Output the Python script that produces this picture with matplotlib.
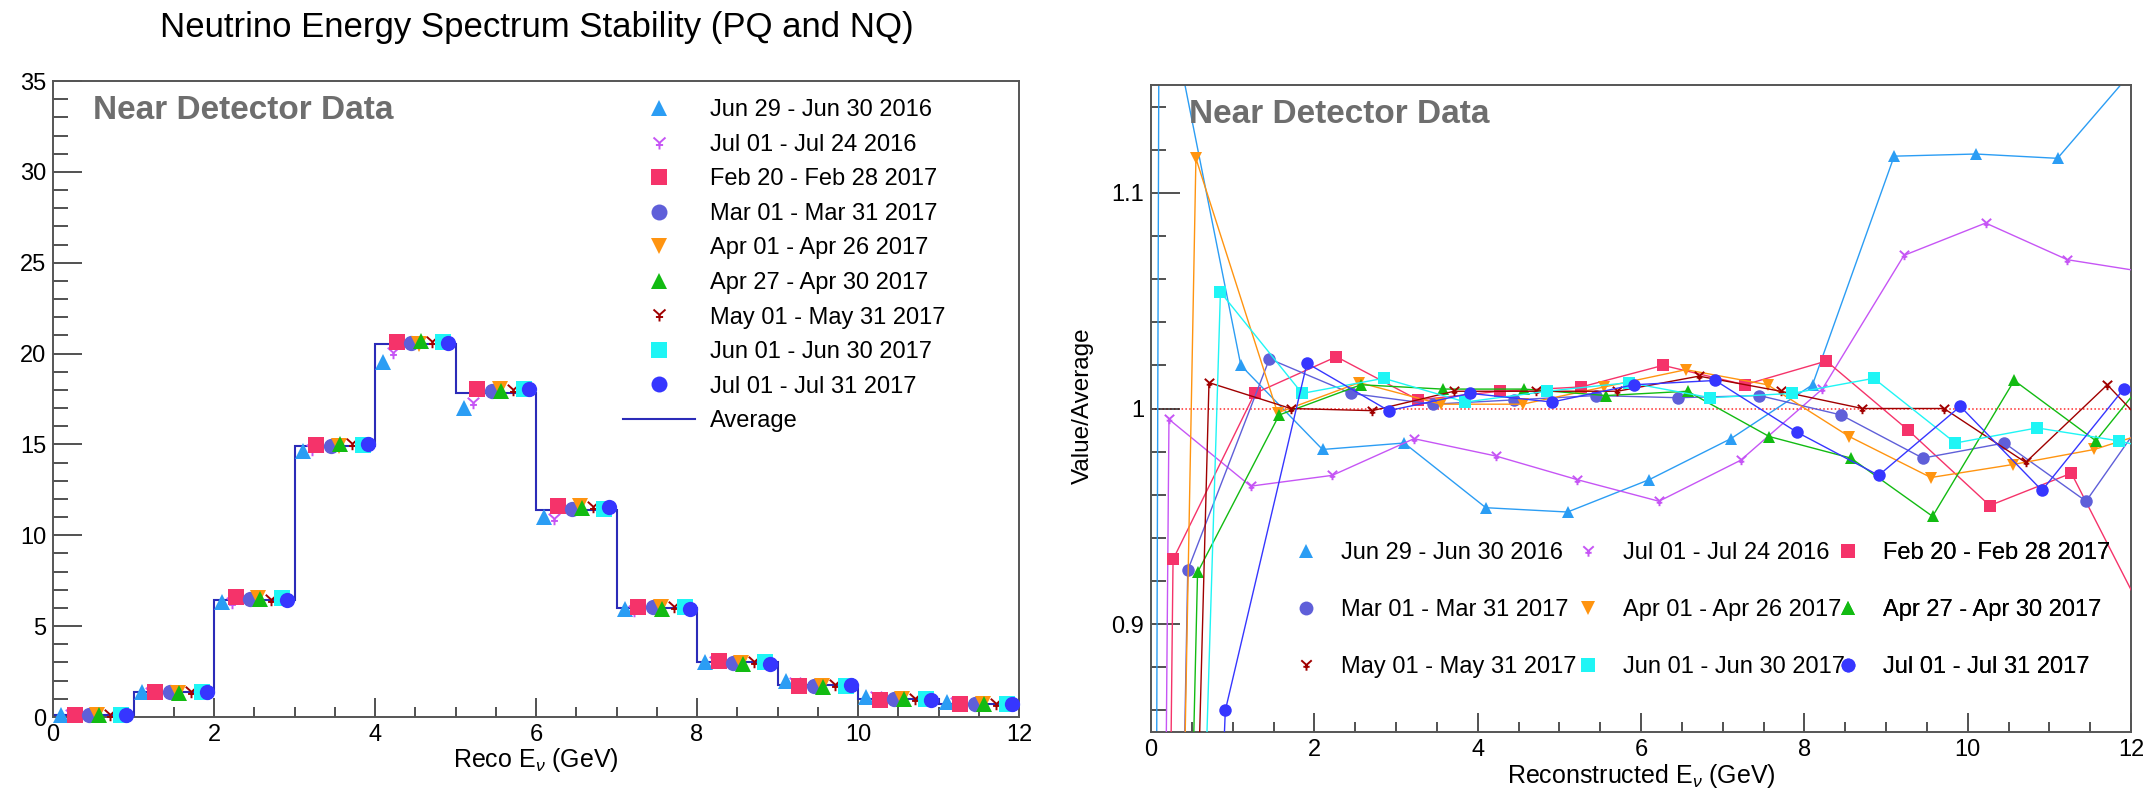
import matplotlib
matplotlib.use("Agg")
import matplotlib.pyplot as plt
from matplotlib.lines import Line2D
from matplotlib.path import Path
from matplotlib.ticker import MultipleLocator, FormatStrFormatter

plt.rcParams['font.family'] = ['Liberation Sans', 'DejaVu Sans']
plt.rcParams['mathtext.fontset'] = 'custom'
plt.rcParams['mathtext.rm'] = 'Liberation Sans'
plt.rcParams['mathtext.it'] = 'Liberation Sans:italic'

# data periods
periods = ["Jun 29 - Jun 30 2016", "Jul 01 - Jul 24 2016", "Feb 20 - Feb 28 2017",
           "Mar 01 - Mar 31 2017", "Apr 01 - Apr 26 2017", "Apr 27 - Apr 30 2017",
           "May 01 - May 31 2017", "Jun 01 - Jun 30 2017", "Jul 01 - Jul 31 2017"]
colors = ["#2b9df4", "#c655f5", "#f5336a", "#5f5fd9", "#ff9410",
          "#12bb12", "#a00000", "#1ff5f5", "#3636ff"]
# points of each period are shifted inside the 1 GeV bin
offsets = [0.1, 0.22, 0.27, 0.45, 0.55, 0.57, 0.71, 0.85, 0.91]

bin_edges = list(range(13))
average = [0.1, 1.35, 6.45, 14.9, 20.5, 17.85, 11.4, 6.0, 3.0, 1.75, 1.0, 0.72]

# value / average for the 12 bins, last entry is the point past 12 GeV
ratio_jun29_2016 = [1.21, 1.020, 0.981, 0.984, 0.954, 0.952, 0.967, 0.986, 1.011, 1.117, 1.118, 1.116, 1.16]
ratio_jul01_2016 = [0.995, 0.964, 0.969, 0.986, 0.978, 0.967, 0.957, 0.976, 1.009, 1.071, 1.086, 1.069, 1.063]
ratio_feb20_2017 = [0.930, 1.007, 1.024, 1.004, 1.008, 1.010, 1.020, 1.011, 1.022, 0.990, 0.955, 0.970, 0.896]
ratio_mar01_2017 = [0.925, 1.023, 1.007, 1.002, 1.004, 1.006, 1.005, 1.006, 0.997, 0.977, 0.984, 0.957, 1.011]
ratio_apr01_2017 = [1.116, 0.998, 1.012, 1.002, 1.002, 1.010, 1.018, 1.011, 0.987, 0.968, 0.974, 0.981, 0.993]
ratio_apr27_2017 = [0.924, 0.997, 1.011, 1.009, 1.009, 1.006, 1.008, 0.987, 0.977, 0.950, 1.013, 0.985, 1.032]
ratio_may01_2017 = [1.012, 1.000, 0.999, 1.008, 1.008, 1.008, 1.015, 1.008, 1.000, 1.000, 0.975, 1.011, 0.971]
ratio_jun01_2017 = [1.054, 1.007, 1.014, 1.003, 1.008, 1.012, 1.005, 1.007, 1.014, 0.984, 0.991, 0.985, 0.976]
ratio_jul01_2017 = [0.860, 1.021, 0.999, 1.007, 1.003, 1.011, 1.013, 0.989, 0.969, 1.001, 0.962, 1.009, 1.0]
ratios = [ratio_jun29_2016, ratio_jul01_2016, ratio_feb20_2017, ratio_mar01_2017, ratio_apr01_2017,
          ratio_apr27_2017, ratio_may01_2017, ratio_jun01_2017, ratio_jul01_2017]

# ratio graphs start from an empty point at (0, 0)
graph_start_x = 0.0
graph_start_y = 0.0

# ROOT style "yen" marker
yen = Path([(-1, 1), (0, 0.1), (1, 1), (0, 0.1), (0, -1), (-0.6, -0.25), (0.6, -0.25)],
           [Path.MOVETO, Path.LINETO, Path.LINETO, Path.MOVETO, Path.LINETO, Path.MOVETO, Path.LINETO])
markers = ["^", yen, "s", "o", "v", "^", yen, "s", "o"]


def marker_style(i, size):
    if markers[i] is yen:
        return dict(marker=yen, ms=size * 0.75, mfc="none", mec=colors[i], mew=1.4)
    return dict(marker=markers[i], ms=size, mfc=colors[i], mec=colors[i], mew=0)


def root_frame(ax, xmaj_len, ymaj_len):
    for s in ax.spines.values():
        s.set_color("#555555")
        s.set_linewidth(1.4)
    ax.tick_params(which="both", direction="in", top=False, right=False, width=1.1,
                   labelsize=17, color="#222222")
    ax.tick_params(axis="x", which="major", length=xmaj_len, pad=5)
    ax.tick_params(axis="x", which="minor", length=xmaj_len / 2)
    ax.tick_params(axis="y", which="major", length=ymaj_len, pad=5)
    ax.tick_params(axis="y", which="minor", length=ymaj_len / 2)


fig = plt.figure(figsize=(21.46, 7.9), dpi=100)
ax1 = fig.add_axes([53 / 2146, 1 - 717 / 790, 966 / 2146, 636 / 790])
ax2 = fig.add_axes([1151 / 2146, 1 - 732 / 790, 980 / 2146, 647 / 790])

fig.text(537 / 2146, 1 - 28 / 790, "Neutrino Energy Spectrum Stability (PQ and NQ)",
         ha="center", va="center", fontsize=25)

# ---- left: spectra ----
ax1.stairs(average, bin_edges, baseline=None, color="#2b2bb8", lw=1.5, zorder=2)
for i in range(9):
    xs = [b + offsets[i] for b in range(12)]
    ys = [a * r for a, r in zip(average, ratios[i][:12])]
    ax1.plot(xs, ys, ls="none", clip_on=False, zorder=3 + i, **marker_style(i, 11))

ax1.set_xlim(0, 12)
ax1.set_ylim(0, 35)
ax1.xaxis.set_major_locator(MultipleLocator(2))
ax1.xaxis.set_minor_locator(MultipleLocator(0.5))
ax1.yaxis.set_major_locator(MultipleLocator(5))
ax1.yaxis.set_minor_locator(MultipleLocator(1))
root_frame(ax1, 13.7, 21)
ax1.set_xlabel(r"Reco E$_{\nu}$ (GeV)", fontsize=18, va="center")
ax1.xaxis.set_label_coords(0.5, -0.068)
ax1.text(0.5, 0.954, "Near Detector Data", transform=ax1.get_xaxis_transform(),
         fontsize=24, fontweight="bold", color="#6e6e6e", va="center", ha="left")

h1 = [Line2D([], [], ls="none", **marker_style(i, 11.5)) for i in range(9)]
h1.append(Line2D([], [], color="#2b2bb8", lw=1.5))
ax1.legend(h1, periods + ["Average"], loc="upper left", bbox_to_anchor=(0.59, 0.971),
           frameon=False, fontsize=17, handlelength=3.05, handletextpad=0.64,
           labelspacing=0.53, borderpad=0, borderaxespad=0, numpoints=1)

# ---- right: ratio to average ----
ax2.axhline(1.0, color="#ff2a2a", ls=(0, (1, 1.5)), lw=1.1, zorder=1)
for i in range(9):
    xs = [graph_start_x] + [b + offsets[i] for b in range(13)]
    ys = [graph_start_y] + ratios[i]
    ax2.plot(xs, ys, color=colors[i], lw=1.0, zorder=2 + i, **marker_style(i, 9))

ax2.set_xlim(0, 12)
ax2.set_ylim(0.85, 1.15)
ax2.xaxis.set_major_locator(MultipleLocator(2))
ax2.xaxis.set_minor_locator(MultipleLocator(0.5))
ax2.yaxis.set_major_locator(MultipleLocator(0.1))
ax2.yaxis.set_minor_locator(MultipleLocator(0.02))
ax2.yaxis.set_major_formatter(FormatStrFormatter("%g"))
root_frame(ax2, 13.7, 21)
ax2.set_xlabel(r"Reconstructed E$_{\nu}$ (GeV)", fontsize=18, va="center")
ax2.xaxis.set_label_coords(0.5, -0.068)
ax2.set_ylabel("Value/Average", fontsize=17.5, va="center")
ax2.yaxis.set_label_coords(-0.0699, 0.504)
ax2.text(0.039, 0.955, "Near Detector Data", transform=ax2.transAxes,
         fontsize=24, fontweight="bold", color="#6e6e6e", va="center", ha="left")

h2 = [Line2D([], [], ls="none", **marker_style(i, 10)) for i in range(9)]
col_groups = [[0, 3, 6], [1, 4, 7], [2, 5, 8]]
col_x = [0.1433, 0.4311, 0.6969]
for g, x in zip(col_groups, col_x):
    leg = ax2.legend([h2[k] for k in g], [periods[k] for k in g], loc="upper left",
                     bbox_to_anchor=(x, 0.2929), frameon=False, fontsize=17,
                     handlelength=1.2, handletextpad=0.89, labelspacing=1.47,
                     borderpad=0, borderaxespad=0, numpoints=1)
    ax2.add_artist(leg)

fig.savefig("out.png", dpi=100)
